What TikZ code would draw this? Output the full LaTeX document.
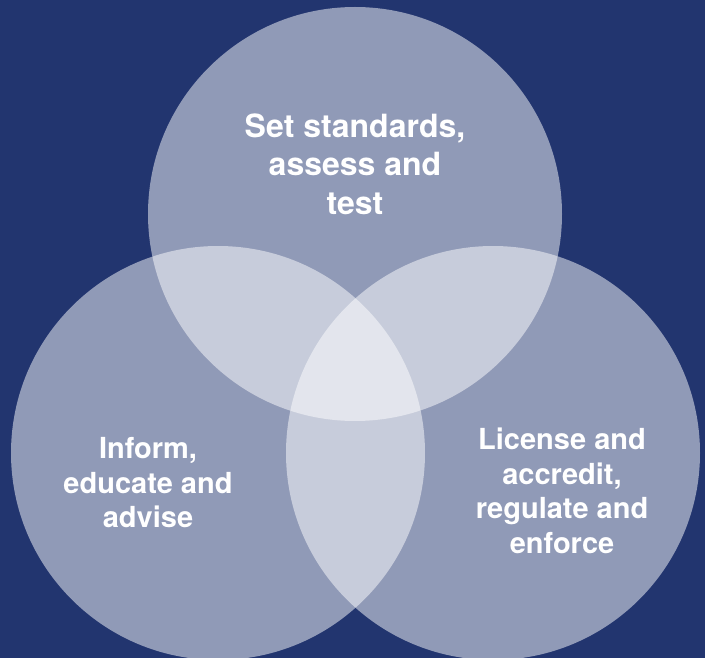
\documentclass[tikz,border=0pt]{standalone}
\usepackage{fontspec}
\setmainfont{TeX Gyre Heros}
\definecolor{BackClr}{RGB}{34,53,111}

\begin{document}
\begin{tikzpicture}[x=1pt,y=-1pt,
  disc/.style={fill=white,fill opacity=0.5},
  venntext/.style={text=white,align=center,inner sep=0pt}]

\fill[BackClr] (0,0) rectangle (705,658);

\coordinate (T) at (355,214);
\coordinate (L) at (218,453);
\coordinate (R) at (493,453);

\fill[disc] (T) circle (207pt);
\fill[disc] (L) circle (207pt);
\fill[disc] (R) circle (207pt);

\node[venntext,font=\bfseries\fontsize{32}{38.5}\selectfont] (std) at (355,164)
  {Set standards,\\assess and\\test};
\node[venntext,font=\bfseries\fontsize{29}{34.5}\selectfont] (inf) at (148,483)
  {Inform,\\educate and\\advise};
\node[venntext,font=\bfseries\fontsize{29}{34.5}\selectfont] (lic) at (562,491)
  {License and\\accredit,\\regulate and\\enforce};

\end{tikzpicture}
\end{document}
